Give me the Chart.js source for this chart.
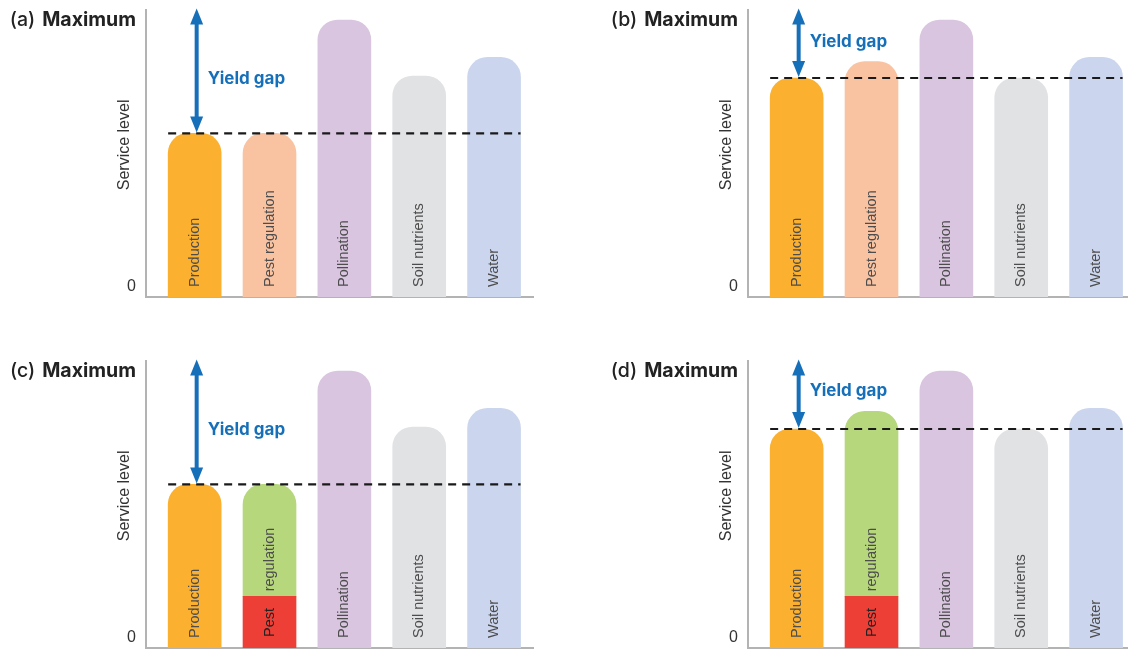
<!DOCTYPE html>
<html>
<head>
<meta charset="utf-8">
<script src="https://cdn.jsdelivr.net/npm/chart.js@4.4.1/dist/chart.umd.min.js"></script>
<style>
  html, body { margin: 0; padding: 0; width: 1128px; height: 651px; overflow: hidden; background: #fff; }
  canvas { position: absolute; }
</style>
</head>
<body>
<canvas id="panelA" width="564" height="300" style="left:0;top:0"></canvas>
<canvas id="panelB" width="564" height="300" style="left:602px;top:0"></canvas>
<canvas id="panelC" width="564" height="300" style="left:0;top:351px"></canvas>
<canvas id="panelD" width="564" height="300" style="left:602px;top:351px"></canvas>
<script>
// Data (0 = none, 100 = maximum)
const categories = ['Production', 'Pest regulation', 'Pollination', 'Soil nutrients', 'Water'];
const levelsA = [57, 57, 96.5, 77, 83.5];
const levelsB = [76.3, 82, 96.5, 76.3, 83.5];
const levelsC = [57, 18, 96.5, 77, 83.5];   // pest regulation: red part only
const levelsD = [76.3, 18, 96.5, 76.3, 83.5];
const pestUpperC = [18, 57];                 // green part of pest regulation
const pestUpperD = [18, 82.5];
const yieldLevels = [57, 76.3, 57, 76.3];   // dashed line = production level
const yieldLabelLevels = [76, 89, 76, 89.5]; // where "Yield gap" sits

const colors = ['#FBB12F', '#F9C3A2', '#D9C5E0', '#E1E2E4', '#CBD6EE'];
const splitColors = ['#FBB12F', '#EE3F37', '#D9C5E0', '#E1E2E4', '#CBD6EE'];
const green = '#B6D77B';
const blue = '#1670B9';

const overlay = {
    id: 'overlay',
    afterDatasetsDraw(chart, args, opts) {
        const ctx = chart.ctx;
        const x = chart.scales.x;
        const y = chart.scales.y;
        const left = chart.chartArea.left;
        const half = opts.barWidth / 2;
        ctx.save();

        // labels inside the bars
        ctx.fillStyle = '#4d4d4d';
        ctx.font = '14.5px "Liberation Sans", Arial, sans-serif';
        ctx.textBaseline = 'middle';
        ctx.textAlign = 'left';
        categories.forEach(function (name, i) {
            const cx = x.getPixelForValue(i);
            if (opts.split && i === 1) {
                ctx.save();
                ctx.translate(cx, y.getPixelForValue(0) - 11);
                ctx.rotate(-Math.PI / 2);
                ctx.fillStyle = '#222';
                ctx.fillText('Pest', 0, 0);
                ctx.restore();
                ctx.save();
                ctx.translate(cx, y.getPixelForValue(opts.split[0]) - 5);
                ctx.rotate(-Math.PI / 2);
                ctx.fillText('regulation', 0, 0);
                ctx.restore();
            } else {
                ctx.save();
                ctx.translate(cx, y.getPixelForValue(0) - 10);
                ctx.rotate(-Math.PI / 2);
                ctx.fillText(name, 0, 0);
                ctx.restore();
            }
        });

        // dashed yield line
        const gy = y.getPixelForValue(opts.gap);
        ctx.strokeStyle = '#1a1a1a';
        ctx.lineWidth = 2.2;
        ctx.setLineDash([8, 6]);
        ctx.beginPath();
        ctx.moveTo(x.getPixelForValue(0) - half, gy);
        ctx.lineTo(x.getPixelForValue(categories.length - 1) + half, gy);
        ctx.stroke();
        ctx.setLineDash([]);

        // double arrow
        const ax = x.getPixelForValue(0) + 2;
        const top = y.getPixelForValue(100.5);
        const bottom = gy - 1;
        const head = 16;
        ctx.fillStyle = blue;
        ctx.fillRect(ax - 2, top + head - 2, 4, bottom - top - 2 * head + 4);
        ctx.beginPath();
        ctx.moveTo(ax, top);
        ctx.lineTo(ax + 6.5, top + head);
        ctx.lineTo(ax - 6.5, top + head);
        ctx.closePath();
        ctx.fill();
        ctx.beginPath();
        ctx.moveTo(ax, bottom);
        ctx.lineTo(ax + 6.5, bottom - head);
        ctx.lineTo(ax - 6.5, bottom - head);
        ctx.closePath();
        ctx.fill();

        ctx.font = 'bold 17px Inter, "Noto Sans", sans-serif';
        ctx.textAlign = 'left';
        ctx.fillText('Yield gap', ax + 11, y.getPixelForValue(opts.labelAt));

        // axis texts
        ctx.fillStyle = '#333';
        ctx.font = '16px "Liberation Sans", Arial, sans-serif';
        ctx.textAlign = 'right';
        ctx.fillText('0', left - 10, y.getPixelForValue(0) - 10);

        ctx.save();
        ctx.translate(left - 21, y.getPixelForValue(53));
        ctx.rotate(-Math.PI / 2);
        ctx.textAlign = 'center';
        ctx.fillText('Service level', 0, 0);
        ctx.restore();

        ctx.fillStyle = '#222';
        ctx.font = 'bold 19.5px Inter, "Noto Sans", sans-serif';
        const my = y.getPixelForValue(100) + 10;
        ctx.fillText('Maximum', left - 10, my);
        const w = ctx.measureText('Maximum').width;
        ctx.font = '500 19.5px Inter, "Noto Sans", sans-serif';
        ctx.fillText('(' + opts.letter + ')', left - 10 - w - 7, my);

        ctx.restore();
    }
};

function makePanel(id, letter, levels, pestUpper, gap, labelAt) {
    const barWidth = 53;
    const datasets = [{
        data: levels.map(function (v, i) { return { x: i, y: v }; }),
        backgroundColor: pestUpper ? splitColors : colors,
        borderRadius: function (c) {
            return (pestUpper && c.dataIndex === 1) ? 0 : 20;
        },
        barThickness: barWidth,
        grouped: false
    }];
    if (pestUpper) {
        datasets.push({
            data: [{ x: 1, y: pestUpper }],
            backgroundColor: green,
            borderRadius: 20,
            barThickness: barWidth,
            grouped: false
        });
    }
    new Chart(document.getElementById(id), {
        type: 'bar',
        data: { datasets: datasets },
        options: {
            responsive: false,
            animation: false,
            events: [],
            layout: { padding: { left: 0, right: 31, top: 10, bottom: 3 } },
            plugins: {
                legend: { display: false },
                tooltip: { enabled: false },
                overlay: { letter: letter, gap: gap, labelAt: labelAt, split: pestUpper, barWidth: barWidth }
            },
            scales: {
                x: {
                    type: 'linear',
                    offset: false,
                    min: -0.65,
                    max: 4.52,
                    ticks: { display: false },
                    grid: { display: false, offset: false },
                    border: { color: '#b3b3b3', width: 2 },
                    afterFit: function (s) { s.height = 0; }
                },
                y: {
                    min: 0,
                    max: 100,
                    ticks: { display: false },
                    grid: { display: false },
                    border: { color: '#b3b3b3', width: 2 },
                    afterFit: function (s) { s.width = 146; }
                }
            }
        },
        plugins: [overlay]
    });
}

makePanel('panelA', 'a', levelsA, null, yieldLevels[0], yieldLabelLevels[0]);
makePanel('panelB', 'b', levelsB, null, yieldLevels[1], yieldLabelLevels[1]);
makePanel('panelC', 'c', levelsC, pestUpperC, yieldLevels[2], yieldLabelLevels[2]);
makePanel('panelD', 'd', levelsD, pestUpperD, yieldLevels[3], yieldLabelLevels[3]);
</script>
</body>
</html>
